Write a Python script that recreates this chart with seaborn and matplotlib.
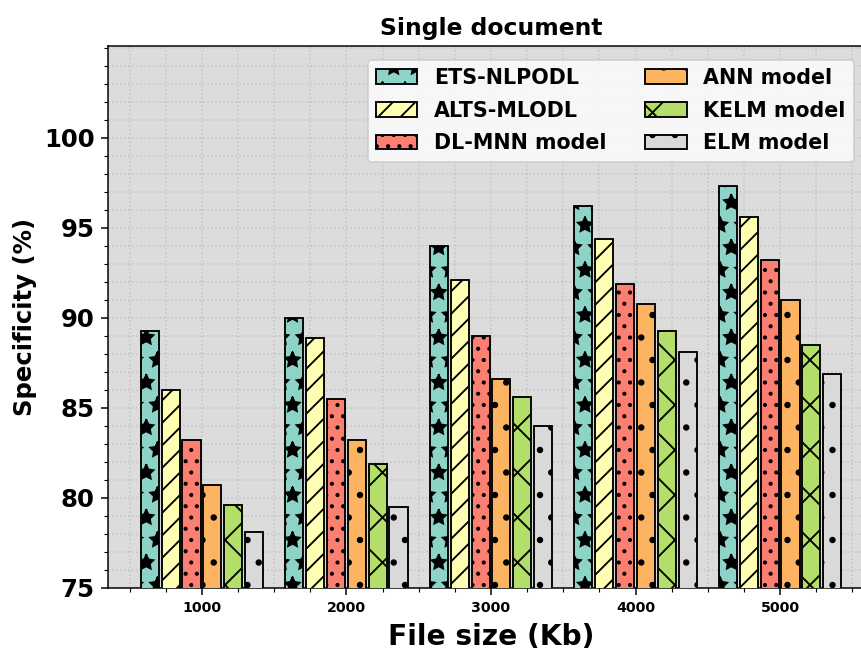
import numpy as np
import pandas as pd
import seaborn as sns
import matplotlib.pyplot as plt
import matplotlib.patches as mpatches
from matplotlib.ticker import MultipleLocator

sns.set_style('ticks')
plt.rcParams['font.family'] = ['DejaVu Sans']
plt.rcParams['hatch.linewidth'] = 1.0
for k in ['text.color', 'axes.labelcolor', 'xtick.color', 'ytick.color']:
    plt.rcParams[k] = 'black'

# values
file_sizes = ['1000', '2000', '3000', '4000', '5000']
models = ['ETS-NLPODL', 'ALTS-MLODL', 'DL-MNN model',
          'ANN model', 'KELM model', 'ELM model']
ets_nlpodl = [89.3, 90.0, 94.0, 96.2, 97.3]
alts_mlodl = [86.0, 88.9, 92.1, 94.4, 95.6]
dl_mnn = [83.2, 85.5, 89.0, 91.9, 93.2]
ann = [80.7, 83.2, 86.6, 90.8, 91.0]
kelm = [79.6, 81.9, 85.6, 89.3, 88.5]
elm = [78.1, 79.5, 84.0, 88.1, 86.9]

colors = ['#8dd3c7', '#ffffb3', '#fb8072', '#fdb462', '#b3de69', '#d9d9d9']
hatches = ['*', '//', '..', '.', 'x', '.']

series = [ets_nlpodl, alts_mlodl, dl_mnn, ann, kelm, elm]
df = pd.DataFrame({
    'File size (Kb)': file_sizes * len(models),
    'Specificity (%)': np.concatenate(series),
    'Model': np.repeat(models, len(file_sizes)),
})

fig = plt.figure(figsize=(861 / 135, 650 / 135), dpi=135)
ax = fig.add_axes([0.1254, 0.0954, 0.8897, 0.8338])
ax.set_facecolor('#dcdcdc')

sns.barplot(data=df, x='File size (Kb)', y='Specificity (%)', hue='Model',
            palette=colors, saturation=1, edgecolor='black', linewidth=1.0,
            width=0.865, gap=0.13, legend=False, ax=ax, zorder=3)

# hatch each series
for cont, h in zip(ax.containers, hatches):
    for bar in cont.patches:
        bar.set_hatch(h)

ax.set_ylim(75, 105.1)
ax.set_xlim(-0.65, 4.65)
ax.set_yticks([75, 80, 85, 90, 95, 100])
ax.yaxis.set_minor_locator(MultipleLocator(1))
ax.xaxis.set_minor_locator(MultipleLocator(0.25))
ax.grid(which='both', color='#c2c2c2', linestyle=':', linewidth=0.8, zorder=0)
ax.set_axisbelow(True)

for lab in ax.get_yticklabels():
    lab.set_fontweight('bold')
    lab.set_fontsize(13)
for lab in ax.get_xticklabels():
    lab.set_fontweight('bold')
    lab.set_fontsize(7.5)

ax.set_xlabel('File size (Kb)', fontsize=15, fontweight='bold')
ax.set_ylabel('Specificity (%)', fontsize=13, fontweight='bold')
ax.set_title('Single document', fontsize=12.5, fontweight='bold')

for s in ax.spines.values():
    s.set_color('black')

handles = [mpatches.Patch(facecolor=c, edgecolor='black', hatch=h, label=m)
           for c, h, m in zip(colors, hatches, models)]
leg = ax.legend(handles=handles, ncol=2, loc='upper right',
                bbox_to_anchor=(0.987, 0.994),
                prop={'weight': 'bold', 'size': 11}, handlelength=2.0,
                labelspacing=0.62, columnspacing=1.9)

fig.savefig('out.png', dpi=135)
